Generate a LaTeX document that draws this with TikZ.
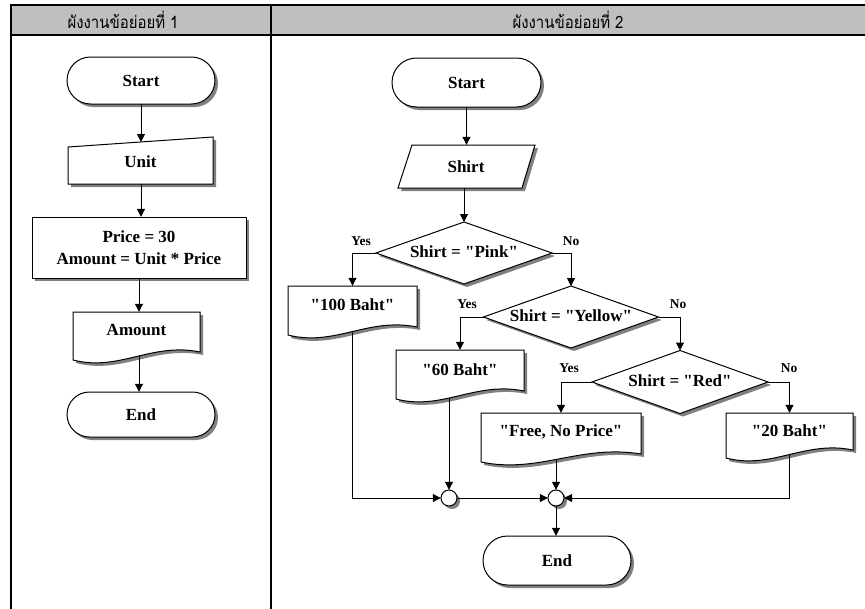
\documentclass[tikz,border=0pt]{standalone}
\usepackage{fontspec}
\setmainfont{Liberation Serif}[Ligatures=TeXOff]
\newfontfamily\thaifont[Script=Thai]{Loma}
\usetikzlibrary{arrows.meta,calc}

\pgfdeclarelayer{shadowL}
\pgfdeclarelayer{connL}
\pgfdeclarelayer{shapeL}
\pgfsetlayers{shadowL,connL,shapeL,main}

\tikzset{
  shapeline/.style={draw=black, line width=1pt, fill=white},
  shadowc/.style={fill=black!50},
  txt/.style={font=\fontsize{17}{22}\selectfont\bfseries, inner sep=0pt, align=center},
  lbl/.style={font=\fontsize{13.5}{15}\selectfont\bfseries, inner sep=0pt},
  arr/.style={draw, line width=1pt, -{Triangle[length=8pt,width=8pt]}},
  frameline/.style={line width=1.8pt},
  head/.style={font=\thaifont\fontsize{17}{19}\selectfont, inner sep=0pt, xscale=0.88},
  jn/.style={circle, minimum size=16pt, inner sep=0pt},
}

\newcommand\withshadow[1]{%
  \begin{pgfonlayer}{shadowL}\fill[shadowc,shift={(3,3)}] #1;\end{pgfonlayer}%
  \begin{pgfonlayer}{shapeL}\path[shapeline] #1;\end{pgfonlayer}}
\newcommand\docshape[4]{%
  \withshadow{(#1,#3) -- (#2,#3) -- (#2,{#4-8}) .. controls ({#1+0.62*(#2-#1)},{#4-18}) and ({#1+0.36*(#2-#1)},{#4+12}) .. (#1,#4) -- cycle}}

\begin{document}
\begin{tikzpicture}[x=1pt,y=-1pt]
\useasboundingbox (0,0) rectangle (865,608);

% table frame
\fill[gray!50] (11,5) rectangle (866,35);
\draw[frameline] (866,5) -- (11,5) -- (11,610);
\draw[frameline] (11,35) -- (866,35);
\draw[frameline] (271,5) -- (271,610);
\node[head] (h1) at (123,20) {ผังงานข้อย่อยที่ 1};
\node[head] (h2) at (568,20) {ผังงานข้อย่อยที่ 2};

% ---------- left flowchart ----------
\withshadow{[rounded corners=23.5pt] (67,57) rectangle (215,104)}
\node[txt, minimum width=148pt, minimum height=47pt] (L1) at (141,80.5) {Start};

\withshadow{(68,147) -- (213,137) -- (213,184) -- (68,184) -- cycle}
\node[txt] (L2) at (140.5,162) {Unit};
\coordinate (L2in) at (141,142);

\withshadow{(32,217) rectangle (246,278)}
\node[txt, minimum width=214pt, minimum height=61pt] (L3) at (139,247.5) {Price = 30\\Amount = Unit * Price};

\docshape{73}{200}{312}{360}
\node[txt, minimum width=127pt, minimum height=36pt] (L4) at (136.5,330) {Amount};

\withshadow{[rounded corners=22.5pt] (67,392) rectangle (215,437)}
\node[txt, minimum width=148pt, minimum height=45pt] (L5) at (141,414.5) {End};

% ---------- right flowchart ----------
\withshadow{[rounded corners=24.5pt] (392,58) rectangle (541,107)}
\node[txt, minimum width=149pt, minimum height=49pt] (R1) at (466.5,82.5) {Start};

\withshadow{(412,145) -- (535,145) -- (522,188) -- (398,188) -- cycle}
\node[txt, minimum height=43pt] (R2) at (466,166.5) {Shirt};

\withshadow{(376,253) -- (464,222) -- (552,253) -- (464,284) -- cycle}
\coordinate (P3W) at (376,253);
\coordinate (P3N) at (464,222);
\coordinate (P3E) at (552,253);
\node[txt] (R3) at (464,252) {Shirt = "Pink"};

\withshadow{(483.5,317) -- (571,286) -- (658.5,317) -- (571,348) -- cycle}
\coordinate (Y4W) at (483.5,317);
\coordinate (Y4N) at (571,286);
\coordinate (Y4E) at (658.5,317);
\node[txt] (R4) at (571,316) {Shirt = "Yellow"};

\withshadow{(592,382) -- (680,350.5) -- (768,382) -- (680,413.5) -- cycle}
\coordinate (R5W) at (592,382);
\coordinate (R5N) at (680,350.5);
\coordinate (R5E) at (768,382);
\node[txt] (R5) at (680,381) {Shirt = "Red"};

\docshape{288}{417}{286}{335}
\node[txt, minimum width=129pt, minimum height=38pt] (D1) at (352.5,305) {"100 Baht"};
\docshape{396}{524}{350}{399}
\node[txt, minimum width=128pt, minimum height=40pt] (D2) at (460,370) {"60 Baht"};
\docshape{481}{641}{413}{462}
\node[txt, minimum width=160pt, minimum height=38pt] (D3) at (561,432) {"Free, No Price"};
\docshape{726}{853}{413}{458}
\node[txt, minimum width=127pt, minimum height=36pt] (D4) at (789.5,431) {"20 Baht"};

\withshadow{(449,498) circle[radius=8pt]}
\node[jn] (C1) at (449,498) {};
\withshadow{(556,498) circle[radius=8pt]}
\node[jn] (C2) at (556,498) {};

\withshadow{[rounded corners=24.5pt] (483,536) rectangle (631,585)}
\node[txt, minimum width=148pt, minimum height=49pt] (R9) at (557,560.5) {End};

% labels
\node[lbl] (y1) at (361,241) {Yes};
\node[lbl] (n1) at (571,241) {No};
\node[lbl] (y2) at (467,304) {Yes};
\node[lbl] (n2) at (678,304) {No};
\node[lbl] (y3) at (569,368) {Yes};
\node[lbl] (n3) at (789,368) {No};

% connectors
\begin{pgfonlayer}{connL}
\draw[arr] (L1) -- (L2in);
\draw[arr] (L2in |- L2) -- (L2in |- L3.north);
\draw[arr] (L3) -- (L3 |- L4.north);
\draw[arr] (L3 |- L4) -- (L3 |- L5.north);

\draw[arr] (R1) -- (R1 |- R2.north);
\draw[arr] (P3N |- R2) -- (P3N);
\draw[arr] (P3W) -| (D1.north);
\draw[arr] (P3E) -| (Y4N);
\draw[arr] (Y4W) -| (D2.north);
\draw[arr] (Y4E) -| (R5N);
\draw[arr] (R5W) -| (D3.north);
\draw[arr] (R5E) -| (D4.north);
\draw[arr] (D1) |- (C1.west);
\draw[arr] (C1 |- D2) -- (C1.north);
\draw[arr] (C1.east) -- (C2.west);
\draw[arr] (C2 |- D3) -- (C2.north);
\draw[arr] (D4) |- (C2.east);
\draw[arr] (C2.south) -- (C2 |- R9.north);
\end{pgfonlayer}
\end{tikzpicture}
\end{document}
